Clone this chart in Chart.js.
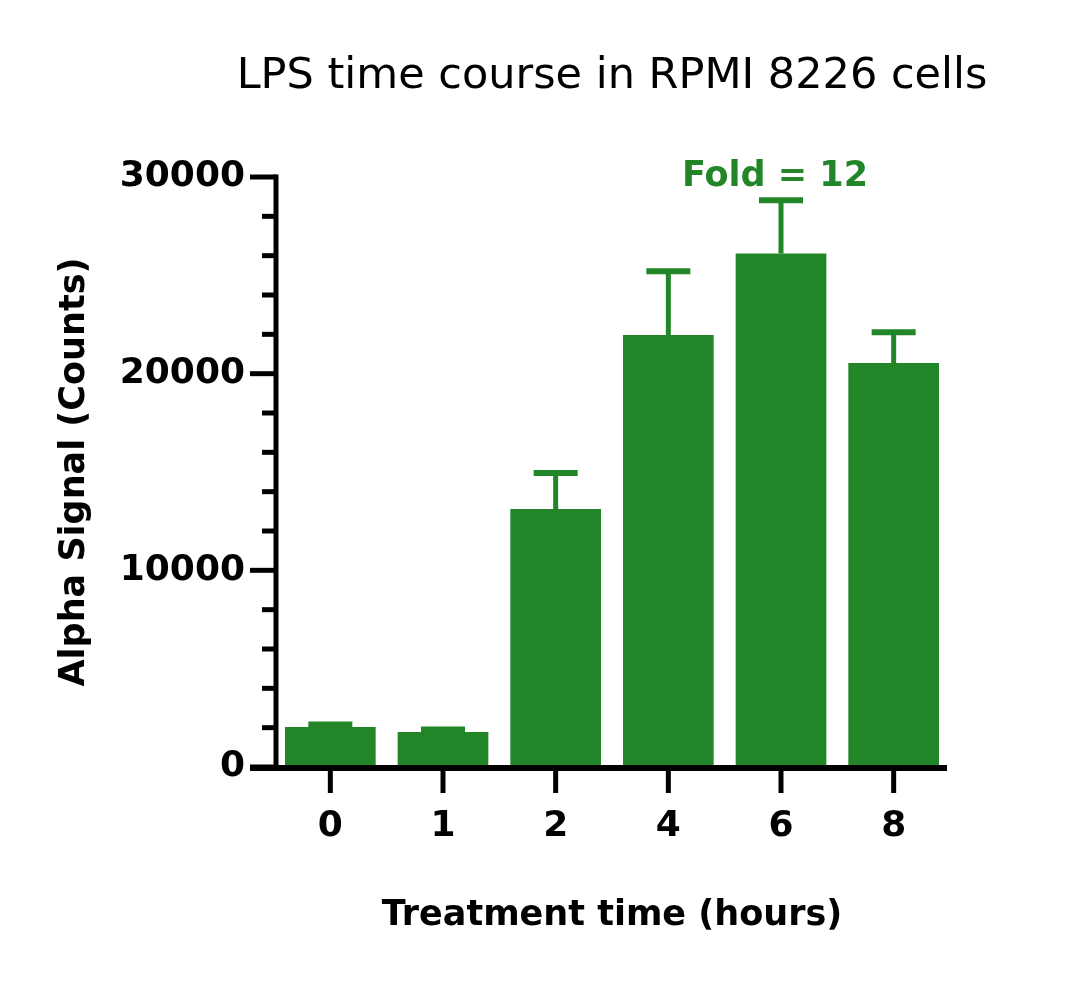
<!DOCTYPE html>
<html>
<head>
<meta charset="utf-8">
<script src="https://cdn.jsdelivr.net/npm/chart.js@4.4.1/dist/chart.umd.min.js"></script>
<style>
  html, body { margin: 0; padding: 0; background: #ffffff; }
  #wrap { width: 1080px; height: 986px; }
</style>
</head>
<body>
<div id="wrap"><canvas id="c" width="1080" height="986"></canvas></div>
<script>
const categories = ['0', '1', '2', '4', '6', '8'];
const meanSignal = [2030, 1780, 13120, 21960, 26110, 20540];
const sdSignal = [135, 127, 1830, 3250, 2710, 1560];
const yTickValues = [0, 10000, 20000, 30000];
const titleText = 'LPS time course in RPMI 8226 cells';
const annotationText = 'Fold = 12';

const GREEN = '#228629';
const FONT = '"DejaVu Sans", sans-serif';

const axesPlugin = {
  id: 'axesPlugin',
  afterDatasetsDraw(chart) {
    const ctx = chart.ctx;
    const x = chart.scales.x, y = chart.scales.y;
    const area = chart.chartArea;
    const y0 = y.getPixelForValue(0);
    const axisX = area.left + 2;
    ctx.save();
    // error bars
    const meta = chart.getDatasetMeta(0);
    ctx.strokeStyle = GREEN;
    meta.data.forEach((bar, i) => {
      const top = y.getPixelForValue(meanSignal[i] + sdSignal[i]);
      const base = y.getPixelForValue(meanSignal[i]);
      ctx.lineWidth = 5;
      ctx.beginPath();
      ctx.moveTo(bar.x, base);
      ctx.lineTo(bar.x, top);
      ctx.stroke();
      ctx.lineWidth = 6;
      ctx.beginPath();
      ctx.moveTo(bar.x - 22, top);
      ctx.lineTo(bar.x + 22, top);
      ctx.stroke();
    });
    // axes
    ctx.strokeStyle = '#000';
    ctx.lineWidth = 5;
    ctx.beginPath();
    ctx.moveTo(axisX, y.getPixelForValue(30000) - 2.5);
    ctx.lineTo(axisX, y0);
    ctx.stroke();
    ctx.lineWidth = 6;
    ctx.beginPath();
    ctx.moveTo(axisX - 26, y0 + 1);
    ctx.lineTo(area.right - 3, y0 + 1);
    ctx.stroke();
    // y ticks
    ctx.lineWidth = 5;
    for (let v = 0; v <= 30000; v += 2000) {
      const py = y.getPixelForValue(v);
      const major = v % 10000 === 0;
      ctx.beginPath();
      ctx.moveTo(axisX - (major ? 26 : 14), py);
      ctx.lineTo(axisX, py);
      ctx.stroke();
    }
    // x ticks
    categories.forEach((c, i) => {
      const px = x.getPixelForValue(i);
      ctx.beginPath();
      ctx.moveTo(px, y0 + 3);
      ctx.lineTo(px, y0 + 26);
      ctx.stroke();
    });
    // annotation
    ctx.fillStyle = GREEN;
    ctx.font = 'bold 35px ' + FONT;
    ctx.textAlign = 'center';
    ctx.textBaseline = 'alphabetic';
    ctx.fillText(annotationText, x.getPixelForValue(4) - 6, 186);
    // title
    ctx.fillStyle = '#000';
    ctx.font = 'normal 43px ' + FONT;
    ctx.fillText(titleText, (area.left + area.right) / 2, 88);
    ctx.restore();
  }
};

new Chart(document.getElementById('c'), {
  type: 'bar',
  data: {
    labels: categories,
    datasets: [{
      data: meanSignal,
      backgroundColor: GREEN,
      borderWidth: 0,
      barPercentage: 0.805,
      categoryPercentage: 1.0
    }]
  },
  options: {
    responsive: false,
    animation: false,
    devicePixelRatio: 1,
    layout: { padding: { left: 54, right: 130, top: 177, bottom: 49 } },
    plugins: {
      legend: { display: false },
      tooltip: { enabled: false },
      title: { display: false }
    },
    scales: {
      x: {
        grid: { display: false, drawTicks: false },
        border: { display: false },
        afterFit(scale) { scale.height = 170; },
        ticks: {
          color: '#000',
          font: { family: FONT, size: 36, weight: 'bold' },
          padding: 38
        },
        title: {
          display: true,
          text: 'Treatment time (hours)',
          color: '#000',
          font: { family: FONT, size: 35, weight: 'bold' },
          padding: { top: 0, bottom: 0 }
        }
      },
      y: {
        min: 0,
        max: 30000,
        afterFit(scale) { scale.width = 220; },
        afterBuildTicks(scale) {
          scale.ticks = yTickValues.map(v => ({ value: v }));
        },
        grid: { display: false, drawTicks: false },
        border: { display: false },
        ticks: {
          color: '#000',
          font: { family: FONT, size: 36, weight: 'bold' },
          padding: 29,
          callback: (v) => String(v)
        },
        title: {
          display: true,
          text: 'Alpha Signal (Counts)',
          color: '#000',
          font: { family: FONT, size: 35, weight: 'bold' },
          padding: { top: 0, bottom: 0 }
        }
      }
    }
  },
  plugins: [axesPlugin]
});
</script>
</body>
</html>
